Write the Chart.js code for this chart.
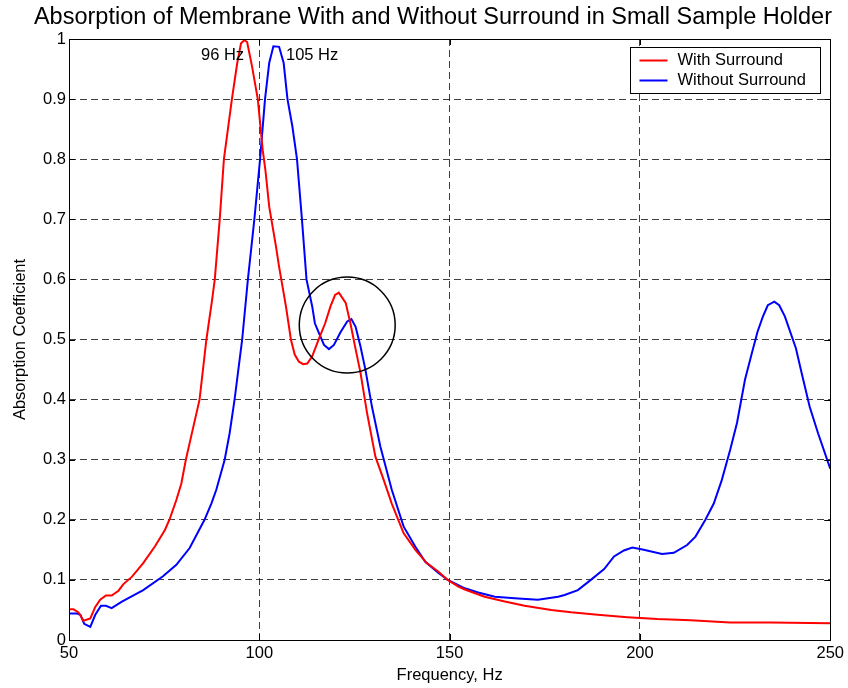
<!DOCTYPE html>
<html>
<head>
<meta charset="utf-8">
<script src="https://cdn.jsdelivr.net/npm/chart.js@4/dist/chart.umd.min.js"></script>
<style>
  html, body { margin: 0; padding: 0; background: #fff; }
  #wrap { width: 848px; height: 688px; position: relative; }
</style>
</head>
<body>
<div id="wrap"><canvas id="chart"></canvas></div>
<script>
const chartTitle = "Absorption of Membrane With and Without Surround in Small Sample Holder";
const xTitle = "Frequency, Hz";
const yTitle = "Absorption Coefficient";

const withLabel = "With Surround";
const withFreq = [50, 51.2, 52.5, 53.8, 55.6, 56.9, 58.2, 59.7, 61.2, 63,
  64.3, 66.5, 69.5, 72.6, 75.2, 76.5, 78.2, 79.5, 80.7, 82.5,
  84.3, 86.1, 87.6, 88.3, 89.6, 90.7, 92.8, 94.2, 95.2, 96.1,
  96.8, 98.1, 99.6, 100.9, 101.6, 102.6, 104.4, 105.2, 107, 108.3,
  109.3, 110.4, 111.5, 112.6, 113.9, 115.7, 117.3, 118.7, 119.9, 120.9,
  122.7, 124, 125.3, 126.6, 128.3, 130.5, 132.7, 134.8, 137.9, 141,
  144, 147, 149.5, 152.3, 154, 159.2, 164.5, 169.7, 176.7, 181.9,
  188.9, 196.7, 204.6, 213.3, 223.7, 234.2, 250];
const withValues = [0.051, 0.051, 0.046, 0.032, 0.036, 0.055, 0.067, 0.074, 0.074, 0.082,
  0.093, 0.105, 0.128, 0.156, 0.183, 0.202, 0.233, 0.26, 0.3, 0.35,
  0.4, 0.5, 0.566, 0.6, 0.7, 0.8, 0.9, 0.96, 0.993, 0.998,
  0.995, 0.954, 0.9, 0.815, 0.782, 0.721, 0.654, 0.621, 0.555, 0.5,
  0.475, 0.463, 0.459, 0.46, 0.472, 0.502, 0.527, 0.555, 0.574, 0.578,
  0.561, 0.525, 0.484, 0.444, 0.378, 0.305, 0.266, 0.227, 0.178, 0.15,
  0.128, 0.114, 0.1, 0.089, 0.084, 0.072, 0.064, 0.057, 0.05, 0.046,
  0.042, 0.038, 0.035, 0.033, 0.029, 0.029, 0.028];

const withoutLabel = "Without Surround";
const withoutFreq = [50, 52.1, 53, 54, 55.6, 56.9, 58.4, 59.7, 61.2, 63.9,
  69.5, 74.7, 78.2, 81.7, 85.6, 87.4, 88.7, 90.9, 92.2, 93.5,
  95.5, 97, 98.7, 100.2, 101.5, 102.6, 103.7, 105.2, 106.4, 107.4,
  108.7, 109.9, 111.2, 112.4, 113.9, 114.6, 115.7, 117, 118.3, 119.6,
  121.4, 123.1, 124.2, 125.3, 126.6, 127.9, 129.6, 131.8, 134.8, 137.9,
  141, 143.6, 147, 149.5, 154, 157.5, 161.9, 168, 173.2, 178.5,
  180.2, 183.7, 187.1, 190.6, 193.2, 195.8, 198, 201, 205.8, 208.9,
  212.4, 214.6, 217.2, 219.4, 221.5, 223.7, 225.5, 227.6, 229.4, 230.9,
  232.3, 233.6, 235.3, 236.6, 238.1, 241, 242.5, 244.6, 246.8, 250];
const withoutValues = [0.044, 0.044, 0.042, 0.027, 0.022, 0.042, 0.057, 0.057, 0.053, 0.064,
  0.083, 0.106, 0.125, 0.153, 0.2, 0.227, 0.25, 0.3, 0.344, 0.4,
  0.5, 0.6, 0.7, 0.8, 0.9, 0.96, 0.988, 0.987, 0.96, 0.9,
  0.854, 0.8, 0.7, 0.6, 0.555, 0.527, 0.51, 0.491, 0.484, 0.491,
  0.513, 0.53, 0.534, 0.521, 0.488, 0.449, 0.388, 0.322, 0.25, 0.189,
  0.155, 0.13, 0.112, 0.1, 0.086, 0.079, 0.072, 0.069, 0.067, 0.072,
  0.075, 0.083, 0.1, 0.118, 0.139, 0.149, 0.154, 0.15, 0.143, 0.145,
  0.158, 0.172, 0.2, 0.227, 0.266, 0.316, 0.361, 0.433, 0.477, 0.513,
  0.538, 0.557, 0.563, 0.557, 0.538, 0.485, 0.444, 0.388, 0.344, 0.285];

// peak labels and the circled region, in data units
const peakNotes = [
  { text: "96 Hz", x: 96, y: 0.972, align: "right" },
  { text: "105 Hz", x: 107, y: 0.972, align: "left" },
];
const circleCenter = { x: 123.1, y: 0.524 };
const circleRadiusHz = 12.6;

const FONT = "Arial, 'Liberation Sans', sans-serif";
const TEXT_SIZE = 16.5;

function toPoints(xs, ys) {
  return xs.map((x, i) => ({ x: x, y: ys[i] }));
}

// frame, inward tick marks, peak notes, circle and legend
const extras = {
  id: "extras",
  afterDatasetsDraw(chart) {
    const { ctx, chartArea: a, scales } = chart;
    const xs = scales.x;
    const ys = scales.y;
    ctx.save();

    ctx.strokeStyle = "#000";
    ctx.lineWidth = 1;
    ctx.strokeRect(Math.round(a.left) + 0.5, Math.round(a.top) + 0.5,
      Math.round(a.right - a.left), Math.round(a.bottom - a.top));

    ctx.beginPath();
    xs.ticks.forEach((t) => {
      const px = Math.round(xs.getPixelForValue(t.value)) + 0.5;
      ctx.moveTo(px, a.bottom); ctx.lineTo(px, a.bottom - 6);
      ctx.moveTo(px, a.top); ctx.lineTo(px, a.top + 6);
    });
    ys.ticks.forEach((t) => {
      const py = Math.round(ys.getPixelForValue(t.value)) + 0.5;
      ctx.moveTo(a.left, py); ctx.lineTo(a.left + 6, py);
      ctx.moveTo(a.right, py); ctx.lineTo(a.right - 6, py);
    });
    ctx.stroke();

    ctx.fillStyle = "#000";
    ctx.font = TEXT_SIZE + "px " + FONT;
    ctx.textBaseline = "middle";
    peakNotes.forEach((n) => {
      ctx.textAlign = n.align;
      ctx.fillText(n.text, xs.getPixelForValue(n.x), ys.getPixelForValue(n.y));
    });

    const cx = xs.getPixelForValue(circleCenter.x);
    const cy = ys.getPixelForValue(circleCenter.y);
    const r = xs.getPixelForValue(circleCenter.x + circleRadiusHz) - cx;
    ctx.lineWidth = 1.5;
    ctx.beginPath();
    ctx.arc(cx, cy, r, 0, Math.PI * 2);
    ctx.stroke();

    // legend box
    const boxW = 190, boxH = 46;
    const bx = Math.round(a.right - 10 - boxW) + 0.5;
    const by = Math.round(a.top + 8) + 0.5;
    ctx.fillStyle = "#fff";
    ctx.fillRect(bx, by, boxW, boxH);
    ctx.lineWidth = 1;
    ctx.strokeRect(bx, by, boxW, boxH);
    ctx.textAlign = "left";
    chart.data.datasets.forEach((ds, i) => {
      const ly = by + 13 + i * 20;
      ctx.strokeStyle = ds.borderColor;
      ctx.lineWidth = 2;
      ctx.beginPath();
      ctx.moveTo(bx + 9, ly);
      ctx.lineTo(bx + 37, ly);
      ctx.stroke();
      ctx.fillStyle = "#000";
      ctx.fillText(ds.label, bx + 47, ly);
    });
    ctx.restore();
  },
};

new Chart(document.getElementById("chart"), {
  type: "line",
  data: {
    datasets: [
      {
        label: withLabel,
        data: toPoints(withFreq, withValues),
        borderColor: "#ff0000",
        borderWidth: 2,
        pointRadius: 0,
        tension: 0,
        fill: false,
      },
      {
        label: withoutLabel,
        data: toPoints(withoutFreq, withoutValues),
        borderColor: "#0000ff",
        borderWidth: 2,
        pointRadius: 0,
        tension: 0,
        fill: false,
      },
    ],
  },
  options: {
    responsive: true,
    maintainAspectRatio: false,
    animation: false,
    layout: { padding: { left: 0, right: 16, top: 3, bottom: 0 } },
    plugins: {
      legend: { display: false },
      tooltip: { enabled: false },
      title: {
        display: true,
        text: chartTitle,
        align: "end",
        color: "#000",
        font: { family: FONT, size: 23.5, weight: "normal" },
        padding: { top: 0, bottom: 7.8 },
      },
    },
    scales: {
      x: {
        type: "linear",
        min: 50,
        max: 250,
        ticks: { stepSize: 50, color: "#000", padding: 4, font: { family: FONT, size: TEXT_SIZE } },
        grid: { color: "rgba(0,0,0,0.75)", lineWidth: 1, drawTicks: false },
        border: { display: false, dash: [7, 4] },
        title: {
          display: true,
          text: xTitle,
          color: "#000",
          font: { family: FONT, size: TEXT_SIZE },
          padding: { top: 0, bottom: 3 },
        },
        afterFit(scale) { scale.height = 48; },
      },
      y: {
        min: 0,
        max: 1,
        ticks: {
          stepSize: 0.1,
          color: "#000",
          padding: 3,
          font: { family: FONT, size: TEXT_SIZE },
          callback: (value) => String(Number(value.toFixed(1))),
        },
        grid: { color: "rgba(0,0,0,0.75)", lineWidth: 1, drawTicks: false },
        border: { display: false, dash: [7, 4] },
        title: {
          display: true,
          text: yTitle,
          color: "#000",
          font: { family: FONT, size: TEXT_SIZE },
          padding: { top: 11, bottom: 0 },
        },
        afterFit(scale) { scale.width = 69; },
      },
    },
  },
  plugins: [extras],
});
</script>
</body>
</html>
